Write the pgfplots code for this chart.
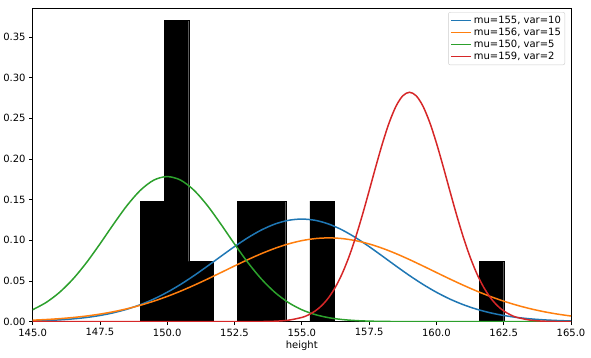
\documentclass[border=0pt]{standalone}
\usepackage{fontspec}
\setmainfont{DejaVu Sans}
\usepackage{pgfplots}
\pgfplotsset{compat=1.18}
\usetikzlibrary{calc}
\definecolor{tabblue}{HTML}{1F77B4}
\definecolor{taborange}{HTML}{FF7F0E}
\definecolor{tabgreen}{HTML}{2CA02C}
\definecolor{tabred}{HTML}{D62728}
\begin{document}
\begin{tikzpicture}
\begin{axis}[
  scale only axis,
  width=539pt, height=314pt,
  xmin=145, xmax=165, ymin=0, ymax=0.3857,
  xtick={145,147.5,150,152.5,155,157.5,160,162.5,165},
  ytick={0,0.05,0.1,0.15,0.2,0.25,0.3,0.35},
  xticklabel style={/pgf/number format/.cd,fixed,fixed zerofill,precision=1,assume math mode=true},
  yticklabel style={/pgf/number format/.cd,fixed,fixed zerofill,precision=2,assume math mode=true},
  scaled y ticks=false,
  tick align=outside, major tick length=3.5pt,
  xtick pos=left, ytick pos=left,
  tick style={black, line width=0.8pt},
  axis line style={line width=0.8pt},
  xlabel={height},
  xlabel style={yshift=2pt},
  legend style={at={(0.989,0.987)}, anchor=north east, draw=black!20, rounded corners=2pt, font=\fontsize{10}{12}\selectfont, row sep=-1pt, inner sep=2pt},
  legend cell align=left,
  legend image code/.code={\draw[#1, line width=1.5pt] (0pt,0pt) -- (20pt,0pt);},
]
\addplot[ybar interval, fill=black, draw=black, line width=0.3pt, forget plot] coordinates {
(149,0.14815)(149.9,0.37037)(150.8,0.07407)(151.7,0)(152.6,0.14815)(153.5,0.14815)(154.4,0)(155.3,0.14815)(156.2,0)(157.1,0)(158,0)(158.9,0)(159.8,0)(160.7,0)(161.6,0.07407)(162.5,0)
};
\addplot[tabblue, line width=1.5pt, smooth] coordinates {
(145,0.00085)(145.5,0.00138)(146,0.00220)(146.5,0.00340)(147,0.00514)(147.5,0.00758)(148,0.01089)(148.5,0.01526)(149,0.02085)(149.5,0.02780)(150,0.03615)(150.5,0.04584)(151,0.05669)(151.5,0.06838)(152,0.08044)(152.5,0.09230)(153,0.10329)(153.5,0.11274)(154,0.12001)(154.5,0.12459)(155,0.12616)
(155.5,0.12459)(156,0.12001)(156.5,0.11274)(157,0.10329)(157.5,0.09230)(158,0.08044)(158.5,0.06838)(159,0.05669)(159.5,0.04584)(160,0.03615)(160.5,0.02780)(161,0.02085)(161.5,0.01526)(162,0.01089)(162.5,0.00758)(163,0.00514)(163.5,0.00340)(164,0.00220)(164.5,0.00138)(165,0.00085)
};
\addlegendentry{mu=155, var=10}
\addplot[taborange, line width=1.5pt, smooth] coordinates {
(145,0.00183)(145.5,0.00261)(146,0.00367)(146.5,0.00509)(147,0.00692)(147.5,0.00927)(148,0.01220)(148.5,0.01580)(149,0.02011)(149.5,0.02519)(150,0.03103)(150.5,0.03758)(151,0.04477)(151.5,0.05245)(152,0.06043)(152.5,0.06848)(153,0.07631)(153.5,0.08364)(154,0.09015)(154.5,0.09557)(155,0.09963)(155.5,0.10215)(156,0.10301)
(156.5,0.10215)(157,0.09963)(157.5,0.09557)(158,0.09015)(158.5,0.08364)(159,0.07631)(159.5,0.06848)(160,0.06043)(160.5,0.05245)(161,0.04477)(161.5,0.03758)(162,0.03103)(162.5,0.02519)(163,0.02011)(163.5,0.01580)(164,0.01220)(164.5,0.00927)(165,0.00692)
};
\addlegendentry{mu=156, var=15}
\addplot[tabgreen, line width=1.5pt, smooth] coordinates {
(145,0.01464)(145.5,0.02355)(146,0.03602)(146.5,0.05241)(147,0.07254)(147.5,0.09550)(148,0.11959)(148.5,0.14247)(149,0.16143)(149.5,0.17401)(150,0.17841)(150.5,0.17401)(151,0.16143)(151.5,0.14247)(152,0.11959)(152.5,0.09550)(153,0.07254)(153.5,0.05241)(154,0.03602)(154.5,0.02355)(155,0.01464)(155.5,0.00866)(156,0.00487)(156.5,0.00261)(157,0.00133)(157.5,0.00064)(158,0.00030)(158.5,0.00013)(159,0.00005)(159.5,0.00002)(160,0.00001)(160.5,0)(161,0)(161.5,0)(162,0)(162.5,0)(163,0)(163.5,0)(164,0)(164.5,0)(165,0)
};
\addlegendentry{mu=150, var=5}
\addplot[tabred, line width=1.5pt, smooth] coordinates {
(145,0)(145.5,0)(146,0)(146.5,0)(147,0)(147.5,0)(148,0)(148.5,0)(149,0)(149.5,0)(150,0)(150.5,0)(151,0)(151.5,0)(152,0)(152.5,0.00001)(153,0.00003)(153.5,0.00015)(154,0.00054)(154.5,0.00179)(155,0.00517)(155.25,0.00839)(155.5,0.01319)(155.75,0.02012)(156,0.02973)(156.25,0.04259)(156.5,0.05913)(156.75,0.07957)(157,0.10378)(157.25,0.13119)(157.5,0.16073)(157.75,0.19087)(158,0.21970)(158.25,0.24509)(158.5,0.26500)(158.75,0.27772)(159,0.28209)
(159.25,0.27772)(159.5,0.26500)(159.75,0.24509)(160,0.21970)(160.25,0.19087)(160.5,0.16073)(160.75,0.13119)(161,0.10378)(161.25,0.07957)(161.5,0.05913)(161.75,0.04259)(162,0.02973)(162.25,0.02012)(162.5,0.01319)(162.75,0.00839)(163,0.00517)(163.5,0.00179)(164,0.00054)(164.5,0.00015)(165,0.00003)
};
\addlegendentry{mu=159, var=2}
\end{axis}
\path ($(current axis.south west)+(-32pt,-36pt)$) rectangle ($(current axis.north east)+(20pt,8pt)$);
\end{tikzpicture}
\end{document}
